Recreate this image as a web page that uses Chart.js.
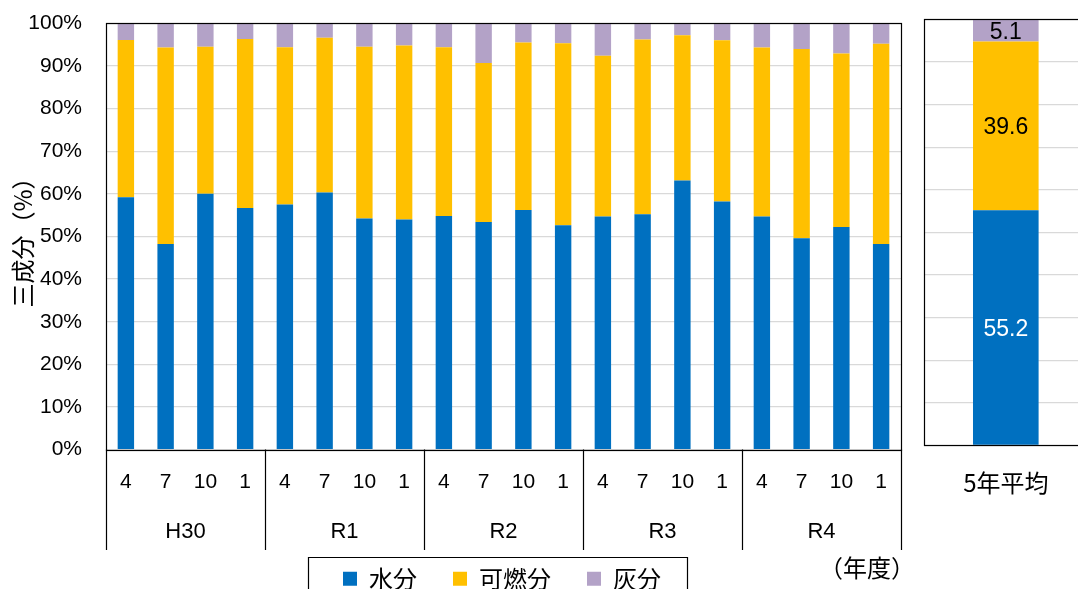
<!DOCTYPE html>
<html><head><meta charset="utf-8">
<script src="https://cdn.jsdelivr.net/npm/chart.js@4"></script>
<style>
html,body{margin:0;padding:0;background:#fff;overflow:hidden;width:1078px;height:589px;position:relative;}
canvas{position:absolute;top:0;}
#c1{left:0;}
#c2{left:905px;}
</style></head><body>
<canvas id="c1" width="930" height="589"></canvas>
<canvas id="c2" width="200" height="589"></canvas>
<script>
// ---- data ----
const months = ['4','7','10','1','4','7','10','1','4','7','10','1','4','7','10','1','4','7','10','1'];
const fiscalYears = ['H30','R1','R2','R3','R4'];
const seriesNames = ['水分','可燃分','灰分'];
const water       = [59.2,48.2,60.0,56.7, 57.5,60.3,54.2,54.0, 54.8,53.4,56.2,52.6, 54.7,55.2,63.1,58.2, 54.7,49.6,52.2,48.2];
const combustible = [36.9,46.1,34.5,39.6, 36.9,36.3,40.3,40.8, 39.6,37.3,39.3,42.7, 37.7,41.0,34.1,37.8, 39.6,44.4,40.7,47.0];
const ash         = [ 3.9, 5.7, 5.5, 3.7,  5.6, 3.4, 5.5, 5.2,  5.6, 9.3, 4.5, 4.7,  7.6, 3.8, 2.8, 4.0,  5.7, 6.0, 7.1, 4.8];
const avgLabel = ['5年平均'];
const avgWater = [55.2];
const avgCombustible = [39.6];
const avgAsh = [5.1];
const yAxisTitle = '三成分（%）';
const xUnitText = '（年度）';

// ---- styles ----
const colors = ['#0070C0','#FFC000','#B3A2C7'];
const LATIN = "'Liberation Sans', Arial, sans-serif";
const CJK = "'Noto Sans CJK JP', 'Noto Sans', sans-serif";
const GRID = '#d9d9d9';

function strokeFrame(ctx, a){
  const l=Math.round(a.left)+0.5, t=Math.round(a.top)+0.5, r=Math.round(a.right)+0.5, b=Math.round(a.bottom)+0.5;
  ctx.save(); ctx.strokeStyle='#000'; ctx.lineWidth=1.2;
  ctx.strokeRect(l,t,r-l,b-t); ctx.restore();
}

const mainPlugin = {
  id:'mainDeco',
  beforeDraw(chart){
    const lg = chart.legend;
    if(lg){
      const C = 502;
      lg.left = C-400; lg.right = C+400; lg.width = 800;
      lg.top = 530.7; lg.bottom = 600; lg.height = lg.bottom - lg.top;
    }
  },
  afterDraw(chart){
    const {ctx, chartArea:a} = chart;
    strokeFrame(ctx, a);
    const xs = chart.scales.x, x2 = chart.scales.x2;
    const per = months.length / fiscalYears.length;
    ctx.save();
    ctx.strokeStyle = '#000'; ctx.lineWidth = 1.2;
    ctx.beginPath();
    for(let g=0; g<=fiscalYears.length; g++){
      let x;
      if(g===0) x=a.left; else if(g===fiscalYears.length) x=a.right;
      else x=(xs.getPixelForValue(g*per-1)+xs.getPixelForValue(g*per))/2;
      x=Math.round(x)+0.5;
      ctx.moveTo(x, a.bottom); ctx.lineTo(x, x2.bottom+1);
    }
    ctx.stroke();
    // legend frame
    const lg = chart.legend;
    if(lg && lg.lineWidths){
      const pad = lg.options.labels.padding;
      const rowStart = (lg.left + pad + lg.right - lg.lineWidths[0])/2;
      const rowEnd = rowStart + lg.lineWidths[0] - pad;
      const fl = Math.round(rowStart-35.5)+0.5, fr = Math.round(rowEnd+26.4)+0.5, ft = 557.5;
      ctx.beginPath();
      ctx.moveTo(fl, 600); ctx.lineTo(fl, ft); ctx.lineTo(fr, ft); ctx.lineTo(fr, 600);
      ctx.stroke();
    }
    // unit text
    ctx.font = '24px ' + CJK; ctx.fillStyle = '#000';
    ctx.textAlign = 'left'; ctx.textBaseline = 'middle';
    ctx.fillText(xUnitText, 819, 568);
    ctx.restore();
  }
};

new Chart(document.getElementById('c1'), {
  type:'bar',
  data:{
    labels: months,
    datasets:[
      {label:seriesNames[0], data:water, backgroundColor:colors[0], borderWidth:0},
      {label:seriesNames[1], data:combustible, backgroundColor:colors[1], borderWidth:0},
      {label:seriesNames[2], data:ash, backgroundColor:colors[2], borderWidth:0}
    ]
  },
  options:{
    responsive:false, animation:false, devicePixelRatio:1,
    layout:{padding:{top:23.3, right:29, bottom:0, left:0}},
    datasets:{bar:{categoryPercentage:1, barPercentage:0.413}},
    scales:{
      x:{stacked:true, position:'bottom', weight:0,
         grid:{display:false, drawTicks:false}, border:{display:false},
         ticks:{font:{family:LATIN, size:21}, color:'#000', padding:20.5, autoSkip:false, maxRotation:0},
         afterFit(s){ s.height = 50; }},
      x2:{type:'category', labels:fiscalYears, position:'bottom', weight:1, offset:true,
         grid:{display:false, drawTicks:false}, border:{display:false},
         ticks:{font:{family:LATIN, size:22}, color:'#000', padding:19, autoSkip:false, maxRotation:0},
         afterFit(s){ s.height = 49.4; }},
      y:{stacked:true, min:0, max:100,
         ticks:{stepSize:10, callback:v=>v+'%', font:{family:LATIN, size:21}, color:'#000', padding:0},
         grid:{color:GRID, lineWidth:1.2, drawTicks:true, tickLength:24, tickColor:'rgba(0,0,0,0)'}, border:{display:false},
         title:{display:true, text:yAxisTitle, font:{family:CJK, size:24}, color:'#000', padding:{top:8.6, bottom:0}},
         afterFit(s){ s.width = 106; }}
    },
    plugins:{
      legend:{position:'bottom', maxHeight:40,
        labels:{font:{family:CJK, size:24}, color:'#000', boxWidth:14, boxHeight:14, padding:36}},
      tooltip:{enabled:false}
    }
  },
  plugins:[mainPlugin]
});

const avgPlugin = {
  id:'avgDeco',
  afterDatasetsDraw(chart){
    const ctx = chart.ctx;
    ctx.save();
    ctx.font = '23px ' + LATIN; ctx.textAlign='center'; ctx.textBaseline='middle';
    chart.data.datasets.forEach((ds,i)=>{
      const meta = chart.getDatasetMeta(i);
      meta.data.forEach((el,j)=>{
        const v = ds.data[j];
        ctx.fillStyle = i===0 ? '#fff' : '#000';
        ctx.fillText(v.toFixed(1), el.x, (el.y+el.base)/2 + 2);
      });
    });
    ctx.restore();
  },
  afterDraw(chart){ strokeFrame(chart.ctx, chart.chartArea); }
};

new Chart(document.getElementById('c2'), {
  type:'bar',
  data:{
    labels: avgLabel,
    datasets:[
      {label:seriesNames[0], data:avgWater, backgroundColor:colors[0], borderWidth:0},
      {label:seriesNames[1], data:avgCombustible, backgroundColor:colors[1], borderWidth:0},
      {label:seriesNames[2], data:avgAsh, backgroundColor:colors[2], borderWidth:0}
    ]
  },
  options:{
    responsive:false, animation:false, devicePixelRatio:1,
    layout:{padding:{top:19.3, right:17.4, bottom:0, left:0}},
    datasets:{bar:{categoryPercentage:1, barPercentage:0.401}},
    scales:{
      x:{stacked:true, grid:{display:false, drawTicks:false}, border:{display:false},
         ticks:{font:{family:CJK, size:24}, color:'#000', padding:23.2, maxRotation:0},
         afterFit(s){ s.height = 143.6; }},
      y:{stacked:true, min:0, max:100,
         ticks:{display:false, stepSize:10},
         grid:{color:GRID, lineWidth:1.2, drawTicks:false}, border:{display:false},
         afterFit(s){ s.width = 19; }}
    },
    plugins:{legend:{display:false}, tooltip:{enabled:false}}
  },
  plugins:[avgPlugin]
});
</script>
</body></html>
